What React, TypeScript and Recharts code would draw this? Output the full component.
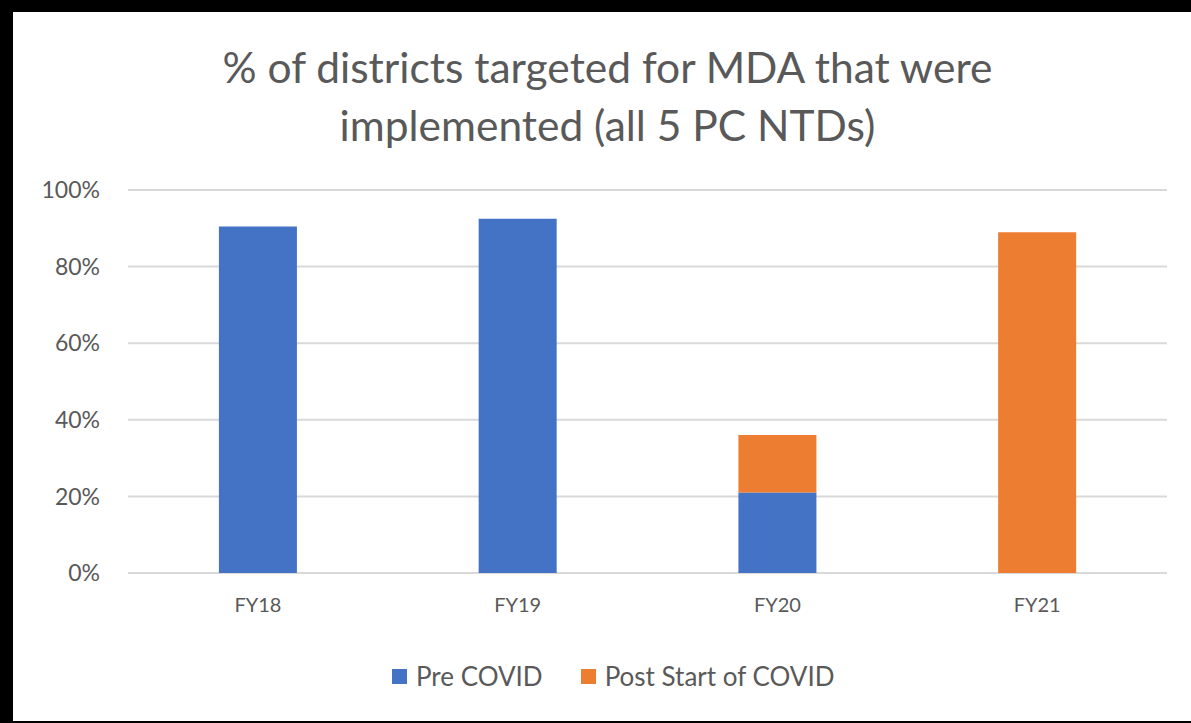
import { BarChart, Bar, XAxis, YAxis, CartesianGrid } from "recharts"

const years = ["FY18", "FY19", "FY20", "FY21"]
const preCovid = [90.5, 92.5, 21, 0]
const postCovid = [0, 0, 15, 89]
const yTicks = [0, 20, 40, 60, 80, 100]
const seriesNames = ["Pre COVID", "Post Start of COVID"]
const seriesColors = ["#4472c4", "#ed7d31"]

const data = years.map((year, i) => ({ year, pre: preCovid[i], post: postCovid[i] }))

const font = "Lato, 'Open Sans', sans-serif"
const gray = "#595959"

export default function App() {
  return (
    <div style={{ position: "fixed", left: 0, top: 0, width: 1191, height: 723, background: "#000", overflow: "hidden" }}>
      <div style={{ position: "absolute", left: 13, top: 12, width: 1190, height: 709, background: "#fff" }} />
      <div
        style={{
          position: "absolute",
          left: 0,
          top: 38,
          width: 1215,
          textAlign: "center",
          fontFamily: font,
          fontSize: 42.5,
          lineHeight: "58px",
          color: gray,
        }}
      >
        % of districts targeted for MDA that were
        <br />
        implemented (all 5 PC NTDs)
      </div>
      <div style={{ position: "absolute", left: 0, top: 0 }}>
        <BarChart width={1191} height={723} data={data} margin={{ top: 190, right: 24, bottom: 120, left: 0 }} barCategoryGap="35%">
          <CartesianGrid vertical={false} stroke="#d9d9d9" strokeWidth={2} />
          <XAxis
            dataKey="year"
            height={30}
            tickLine={false}
            axisLine={false}
            tickSize={0}
            tickMargin={25}
            tick={{ fill: gray, fontSize: 20, fontFamily: font }}
          />
          <YAxis
            width={128}
            domain={[0, 100]}
            ticks={yTicks}
            tickFormatter={(v: number) => `${v}%`}
            tickLine={false}
            axisLine={false}
            tickSize={0}
            tickMargin={28}
            tick={{ fill: gray, fontSize: 23, fontFamily: font }}
          />
          <Bar dataKey="pre" name={seriesNames[0]} stackId="a" fill={seriesColors[0]} isAnimationActive={false} />
          <Bar dataKey="post" name={seriesNames[1]} stackId="a" fill={seriesColors[1]} isAnimationActive={false} />
        </BarChart>
      </div>
      <div
        style={{
          position: "absolute",
          left: 392,
          top: 660,
          display: "flex",
          alignItems: "center",
          fontFamily: font,
          fontSize: 26,
          color: gray,
          lineHeight: "32px",
        }}
      >
        {seriesNames.map((name, i) => (
          <div key={name} style={{ display: "flex", alignItems: "center", marginRight: i === 0 ? 38 : 0 }}>
            <span style={{ display: "inline-block", width: 15, height: 15, background: seriesColors[i], marginRight: 9 }} />
            {name}
          </div>
        ))}
      </div>
    </div>
  )
}
